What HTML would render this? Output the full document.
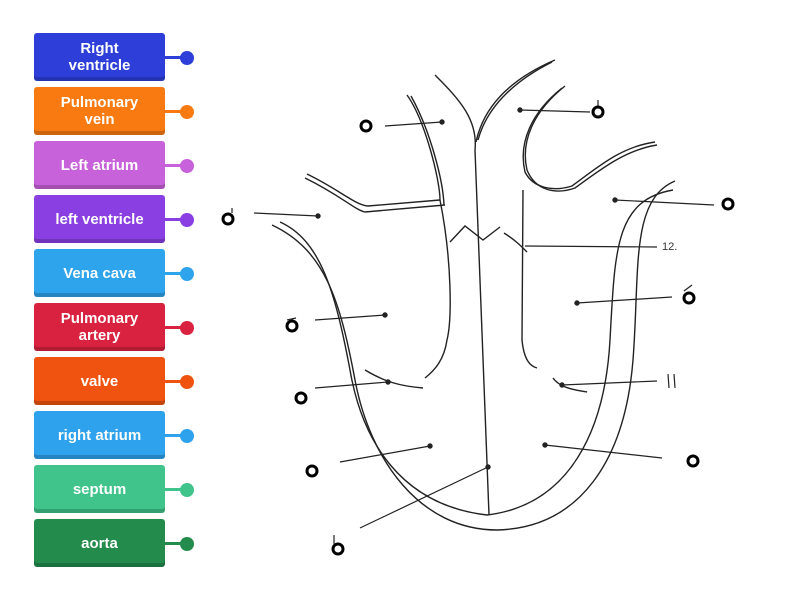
<!DOCTYPE html>
<html><head><style>
body{margin:0;width:800px;height:600px;background:#fff;position:relative;overflow:hidden;font-family:"Liberation Sans",sans-serif}
.b{position:absolute;left:34px;width:131px;height:48px;border-radius:3px;color:#fff;font-weight:bold;font-size:15px;line-height:17px;display:flex;align-items:center;justify-content:center;text-align:center;box-shadow:inset 0 -4px 0 rgba(0,0,0,0.18)}
.c{position:absolute;left:165px;width:18px;height:3px}
.d{position:absolute;left:180px;width:14px;height:14px;border-radius:50%}
</style></head><body>
<div class="b" style="top:33px;background:#2d3fd8">Right<br>ventricle</div><div class="c" style="top:56px;background:#2d3fd8"></div><div class="d" style="top:51px;background:#2d3fd8"></div>
<div class="b" style="top:87px;background:#f97a10">Pulmonary<br>vein</div><div class="c" style="top:110px;background:#f97a10"></div><div class="d" style="top:105px;background:#f97a10"></div>
<div class="b" style="top:141px;background:#c862da">Left atrium</div><div class="c" style="top:164px;background:#c862da"></div><div class="d" style="top:159px;background:#c862da"></div>
<div class="b" style="top:195px;background:#8a3fe2">left ventricle</div><div class="c" style="top:218px;background:#8a3fe2"></div><div class="d" style="top:213px;background:#8a3fe2"></div>
<div class="b" style="top:249px;background:#2ea4ec">Vena cava</div><div class="c" style="top:272px;background:#2ea4ec"></div><div class="d" style="top:267px;background:#2ea4ec"></div>
<div class="b" style="top:303px;background:#d8223f">Pulmonary<br>artery</div><div class="c" style="top:326px;background:#d8223f"></div><div class="d" style="top:321px;background:#d8223f"></div>
<div class="b" style="top:357px;background:#f0520f">valve</div><div class="c" style="top:380px;background:#f0520f"></div><div class="d" style="top:375px;background:#f0520f"></div>
<div class="b" style="top:411px;background:#2ea2ec">right atrium</div><div class="c" style="top:434px;background:#2ea2ec"></div><div class="d" style="top:429px;background:#2ea2ec"></div>
<div class="b" style="top:465px;background:#40c48c">septum</div><div class="c" style="top:488px;background:#40c48c"></div><div class="d" style="top:483px;background:#40c48c"></div>
<div class="b" style="top:519px;background:#238b4c">aorta</div><div class="c" style="top:542px;background:#238b4c"></div><div class="d" style="top:537px;background:#238b4c"></div>
<svg width="800" height="600" style="position:absolute;left:0;top:0" fill="none" stroke="#222" stroke-width="1.4">
<path d="M272,225 C325,250 340,300 355,380 C370,460 420,530 497,530 C580,528 625,460 633,360 C640,270 630,200 675,181"/>
<path d="M280,222 C320,240 335,290 350,370 C362,440 400,505 487,515 C570,505 605,430 610,340 C615,250 615,200 673,190"/>
<path d="M435,75 C460,100 478,120 475,150 L489,515"/>
<path d="M555,60 C520,75 485,100 476,142"/><path d="M552,62 C520,78 488,103 478,140"/>
<path d="M407,95 C425,120 440,180 440,200 C452,260 452,320 447,340 C444,360 435,370 425,378"/>
<path d="M411,96 C430,130 443,180 444,205"/>
<path d="M305,178 C340,195 355,210 365,212 L445,205"/><path d="M307,174 C340,190 355,205 368,206 L440,200"/>
<path d="M523,190 L522,340 C524,360 530,366 537,368"/>
<path d="M565,86 C535,110 520,140 527,170 C535,190 555,195 575,188 C600,170 625,150 657,145"/>
<path d="M562,88 C532,112 518,142 525,172 C533,188 553,192 572,186 C597,168 620,147 655,142"/>
<path d="M450,242 L465,226 L483,240 L500,227"/><path d="M504,233 C515,240 520,245 527,252"/>
<path d="M365,370 C385,382 400,386 423,388"/><path d="M553,378 C560,388 575,390 587,392"/>
<g stroke-width="1.2">
<path d="M254,213 L318,216"/><path d="M385,126 L442,122"/><path d="M520,110 L590,112"/><path d="M615,200 L714,205"/>
<path d="M525,246 L657,247"/><path d="M315,320 L385,315"/><path d="M577,303 L672,297"/><path d="M315,388 L388,382"/>
<path d="M562,385 L657,381"/><path d="M340,462 L430,446"/><path d="M545,445 L662,458"/><path d="M360,528 L488,467"/>
</g>
<g fill="#222"><circle cx="318" cy="216" r="2"/><circle cx="442" cy="122" r="2"/><circle cx="520" cy="110" r="2"/><circle cx="615" cy="200" r="2"/><circle cx="385" cy="315" r="2"/><circle cx="577" cy="303" r="2"/><circle cx="388" cy="382" r="2"/><circle cx="562" cy="385" r="2"/><circle cx="430" cy="446" r="2"/><circle cx="545" cy="445" r="2"/><circle cx="488" cy="467" r="2"/></g>
<g stroke="#000" stroke-width="3">
<circle cx="228" cy="219" r="5"/><circle cx="366" cy="126" r="5"/><circle cx="598" cy="112" r="5"/><circle cx="728" cy="204" r="5"/>
<circle cx="292" cy="326" r="5"/><circle cx="689" cy="298" r="5"/><circle cx="301" cy="398" r="5"/><circle cx="312" cy="471" r="5"/>
<circle cx="693" cy="461" r="5"/><circle cx="338" cy="549" r="5"/>
</g>
<g stroke-width="1.2"><path d="M232,213 L232,208"/><path d="M598,106 L598,100 M594,116 L603,116"/><path d="M684,291 L692,285"/><path d="M287,320 L296,318"/><path d="M334,544 L334,535"/><path d="M668,374 L669,388 M674,374 L675,388"/></g>
<text x="662" y="250" font-size="11" fill="#333" stroke="none" font-family="Liberation Sans">12.</text>
</svg>
</body></html>
